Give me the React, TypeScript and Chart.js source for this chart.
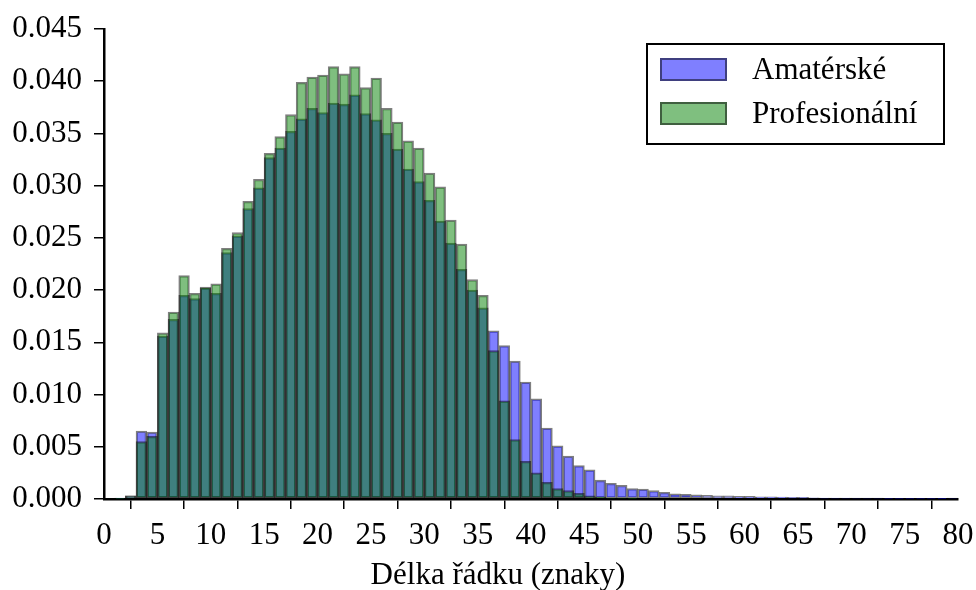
import React, { useEffect, useRef } from "react";
import { Chart, registerables } from "chart.js";
Chart.register(...registerables);

// Histogram bins: bin i covers [i, i+1) characters
const BIN_COUNT = 80;

const amaterske: number[] = [
  0, 0.0001, 0.0003, 0.0065, 0.0064, 0.0156, 0.0172, 0.0195, 0.0192, 0.0202,
  0.0197, 0.0236, 0.0252, 0.0278, 0.0298, 0.0327, 0.0336, 0.0352, 0.0364, 0.0374,
  0.0370, 0.0379, 0.0378, 0.0387, 0.0369, 0.0363, 0.0350, 0.0335, 0.0316, 0.0304,
  0.0286, 0.0266, 0.0245, 0.0220, 0.0200, 0.0183, 0.0161, 0.0147, 0.0132, 0.0112,
  0.0096, 0.0068, 0.0051, 0.0041, 0.0032, 0.0028, 0.0018, 0.0015, 0.0013, 0.0010,
  0.00095, 0.0008, 0.00065, 0.0005, 0.00045, 0.0004, 0.00035, 0.0003, 0.0003, 0.00025,
  0.00025, 0.0002, 0.0002, 0.00018, 0.00015, 0.00015, 0.00012, 0.0001, 0.0001, 0.0001,
  0.00008, 0.00008, 0.00008, 0.00006, 0.00006, 0.00005, 0.00005, 0.00005, 0.00004, 0.00008,
];

const profesionalni: number[] = [
  0, 0.00005, 0.0003, 0.0055, 0.0060, 0.0159, 0.0179, 0.0214, 0.0197, 0.0203,
  0.0206, 0.0240, 0.0255, 0.0285, 0.0306, 0.0331, 0.0347, 0.0368, 0.0399, 0.0404,
  0.0406, 0.0414, 0.0407, 0.0414, 0.0394, 0.0403, 0.0374, 0.0361, 0.0343, 0.0336,
  0.0312, 0.0299, 0.0267, 0.0244, 0.0210, 0.0195, 0.0142, 0.0094, 0.0057, 0.0036,
  0.0025, 0.0016, 0.0010, 0.0008, 0.00055, 0.0003, 0.0002, 0.0001, 0.0001, 0.00005,
  0, 0, 0, 0, 0, 0, 0, 0, 0, 0,
  0, 0, 0, 0, 0, 0, 0, 0, 0, 0,
  0, 0, 0, 0, 0, 0, 0, 0, 0, 0,
];

const seriesLabels = ["Amatérské", "Profesionální"];
const xTitle = "Délka řádku (znaky)";

const FONT_FAMILY = "'Liberation Serif', 'DejaVu Serif', serif";
const FONT_SIZE = 31;

const toPoints = (vals: number[]) =>
  vals.slice(0, BIN_COUNT).map((v, i) => ({ x: i + 0.5, y: v }));

const boxLegend = {
  id: "boxLegend",
  afterDraw(chart: any) {
    const { ctx, chartArea } = chart;
    const w = 297;
    const h = 100;
    const x0 = chartArea.right - 14 - w;
    const y0 = chartArea.top + 15;
    ctx.save();
    ctx.fillStyle = "#ffffff";
    ctx.fillRect(x0, y0, w, h);
    ctx.lineWidth = 2;
    ctx.strokeStyle = "#000000";
    ctx.strokeRect(x0, y0, w, h);
    chart.data.datasets.forEach((ds: any, i: number) => {
      const py = y0 + 14 + i * 44;
      ctx.fillStyle = ds.backgroundColor;
      ctx.fillRect(x0 + 13, py, 67, 23);
      ctx.lineWidth = 2;
      ctx.strokeStyle = "rgba(0,0,0,0.5)";
      ctx.strokeRect(x0 + 14, py + 1, 65, 21);
      ctx.fillStyle = "#000000";
      ctx.font = `${FONT_SIZE}px ${FONT_FAMILY}`;
      ctx.textBaseline = "middle";
      ctx.textAlign = "left";
      ctx.fillText(ds.label, x0 + 105, py + 13);
    });
    ctx.restore();
  },
};

const xLabelPlugin = {
  id: "xLabel",
  afterDraw(chart: any) {
    const { ctx } = chart;
    ctx.save();
    ctx.fillStyle = "#000000";
    ctx.font = `${FONT_SIZE}px ${FONT_FAMILY}`;
    ctx.textAlign = "center";
    ctx.textBaseline = "middle";
    ctx.fillText(xTitle, 498, 576);
    ctx.restore();
  },
};

export default function App() {
  const ref = useRef<HTMLCanvasElement | null>(null);

  useEffect(() => {
    document.body.style.margin = "0";
    const canvas = ref.current;
    if (!canvas) return;
    const chart = new Chart(canvas, {
      type: "bar",
      data: {
        datasets: [
          {
            label: seriesLabels[0],
            data: toPoints(amaterske),
            backgroundColor: "rgba(0,0,255,0.5)",
            borderColor: "rgba(0,0,0,0.5)",
            borderWidth: 1.6,
            borderSkipped: false,
            barPercentage: 1,
            categoryPercentage: 1,
            grouped: false,
            order: 1,
          },
          {
            label: seriesLabels[1],
            data: toPoints(profesionalni),
            backgroundColor: "rgba(0,128,0,0.5)",
            borderColor: "rgba(0,0,0,0.5)",
            borderWidth: 1.6,
            borderSkipped: false,
            barPercentage: 1,
            categoryPercentage: 1,
            grouped: false,
            order: 0,
          },
        ],
      } as any,
      options: {
        animation: false,
        responsive: false,
        devicePixelRatio: 1,
        layout: { padding: { top: 29, right: 18, left: 0, bottom: 0 } },
        plugins: {
          legend: { display: false },
          tooltip: { enabled: false },
        },
        scales: {
          x: {
            type: "linear",
            min: 0,
            max: 80,
            offset: false,
            afterFit: (s: any) => {
              s.height = 91;
              s.paddingLeft = 0;
              s.paddingRight = 0;
            },
            ticks: {
              stepSize: 5,
              color: "#000000",
              font: { family: FONT_FAMILY, size: FONT_SIZE },
              padding: 8,
              maxRotation: 0,
              autoSkip: false,
            },
            grid: {
              display: true,
              drawOnChartArea: false,
              drawTicks: true,
              tickLength: 10,
              color: "#000000",
              lineWidth: 1.5,
            },
            border: { display: true, color: "#000000", width: 2.5 },
          },
          y: {
            type: "linear",
            min: 0,
            max: 0.045,
            afterFit: (s: any) => {
              s.width = 104;
              s.paddingTop = 0;
              s.paddingBottom = 0;
            },
            ticks: {
              stepSize: 0.005,
              color: "#000000",
              font: { family: FONT_FAMILY, size: FONT_SIZE },
              padding: 12,
              callback: (v: any) => Number(v).toFixed(3),
            },
            grid: {
              display: true,
              drawOnChartArea: false,
              drawTicks: true,
              tickLength: 10,
              color: "#000000",
              lineWidth: 1.5,
            },
            border: { display: true, color: "#000000", width: 2.5 },
          },
        },
      } as any,
      plugins: [boxLegend, xLabelPlugin],
    });
    return () => chart.destroy();
  }, []);

  return (
    <div style={{ width: 976, height: 590 }}>
      <canvas ref={ref} width={976} height={590} style={{ display: "block" }} />
    </div>
  );
}
